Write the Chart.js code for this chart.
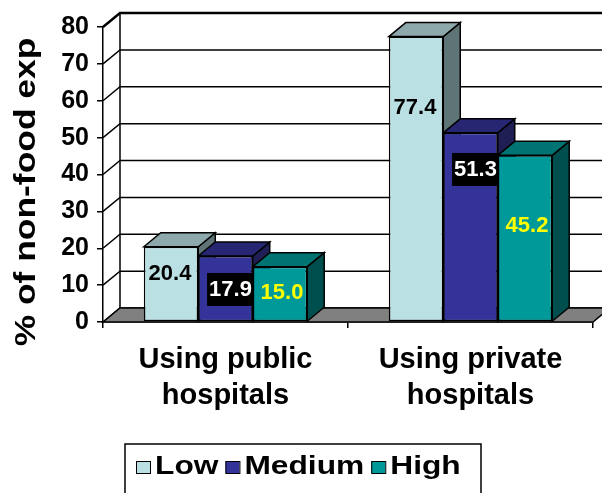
<!DOCTYPE html>
<html>
<head>
<meta charset="utf-8">
<script src="https://cdn.jsdelivr.net/npm/chart.js@4.4.1/dist/chart.umd.min.js"></script>
<style>
    html, body { margin: 0; padding: 0; background: #fff; }
    canvas { display: block; }
</style>
</head>
<body>
<canvas id="chart" width="602" height="493"></canvas>
<script>
// ---- data ----
const categories = [['Using public', 'hospitals'], ['Using private', 'hospitals']];
const seriesNames = ['Low', 'Medium', 'High'];
const lowValues = [20.4, 77.4];
const mediumValues = [17.9, 51.3];
const highValues = [15.0, 45.2];
const yTicks = [0, 10, 20, 30, 40, 50, 60, 70, 80];
const yTitle = '% of non-food exp';

// ---- styles ----
const frontColors = ['#bbe0e3', '#333399', '#009999'];
const topColors = ['#8ea9ab', '#262673', '#007373'];
const sideColors = ['#5f7476', '#1f1f55', '#004f4f'];
const labelColors = ['#000000', '#ffffff', '#ffff00'];
const FONT = "'Liberation Sans', Arial, sans-serif";
const DX = 17, DY = -14;   // depth of the 3D look

// where the value labels sit (in axis units) and their sideways shift
const labelAnchors = [[13.2, 8.95, 8.1], [58.2, 41.5, 26.4]];
const labelShift = [-1, 5, 2];

function poly(ctx, pts, fill) {
    ctx.beginPath();
    ctx.moveTo(pts[0][0], pts[0][1]);
    for (let k = 1; k < pts.length; k++) ctx.lineTo(pts[k][0], pts[k][1]);
    ctx.closePath();
    ctx.fillStyle = fill;
    ctx.fill();
    ctx.stroke();
}

// back wall, floor, bar tops and sides
const threeD = {
    id: 'threeD',
    beforeDatasetsDraw(chart) {
        const { ctx, chartArea: a, scales: { y } } = chart;
        const y0 = y.getPixelForValue(yTicks[0]);
        const yTop = y.getPixelForValue(yTicks[yTicks.length - 1]);
        ctx.save();
        ctx.strokeStyle = '#000';
        ctx.lineJoin = 'miter';

        yTicks.forEach((v, k) => {
            const py = y.getPixelForValue(v);
            ctx.lineWidth = k === yTicks.length - 1 ? 2.5 : 1.5;
            ctx.beginPath();
            ctx.moveTo(a.left, py);
            ctx.lineTo(a.left + DX, py + DY);
            ctx.lineTo(chart.width, py + DY);
            ctx.stroke();
        });
        ctx.lineWidth = 1.5;
        ctx.beginPath();
        ctx.moveTo(a.left + DX, y0 + DY);
        ctx.lineTo(a.left + DX, yTop + DY);
        ctx.stroke();

        // floor
        poly(ctx, [[a.left, y0], [a.left + DX, y0 + DY], [a.right + DX, y0 + DY], [a.right, y0]], '#808080');

        categories.forEach((c, i) => {
            chart.data.datasets.forEach((ds, d) => {
                const el = chart.getDatasetMeta(d).data[i];
                const l = el.x - el.width / 2, r = el.x + el.width / 2;
                poly(ctx, [[r, el.y], [r + DX, el.y + DY], [r + DX, el.base + DY], [r, el.base]], sideColors[d]);
                poly(ctx, [[l, el.y], [l + DX, el.y + DY], [r + DX, el.y + DY], [r, el.y]], topColors[d]);
            });
        });
        ctx.restore();
    },
    afterDatasetsDraw(chart) {
        const { ctx, scales: { y } } = chart;
        ctx.save();
        ctx.font = 'bold 22px ' + FONT;
        ctx.textAlign = 'center';
        ctx.textBaseline = 'middle';
        categories.forEach((c, i) => {
            chart.data.datasets.forEach((ds, d) => {
                const el = chart.getDatasetMeta(d).data[i];
                const txt = ds.data[i].toFixed(1);
                const cx = el.x + labelShift[d];
                const cy = y.getPixelForValue(labelAnchors[i][d]);
                if (d === 1) {
                    const w = ctx.measureText(txt).width;
                    ctx.fillStyle = '#000';
                    ctx.fillRect(cx - w / 2 - 2, cy - 16, w + 4, 33);
                }
                ctx.fillStyle = labelColors[d];
                ctx.fillText(txt, cx, cy + 1);
            });
        });
        ctx.restore();
    }
};

// rotated axis title and boxed legend (text a little stretched, as in the original)
const extras = {
    id: 'extras',
    afterDraw(chart) {
        const ctx = chart.ctx;
        ctx.save();
        ctx.fillStyle = '#000';
        ctx.font = 'bold 30px ' + FONT;
        ctx.textAlign = 'center';
        ctx.textBaseline = 'middle';
        ctx.translate(27, 192);
        ctx.rotate(-Math.PI / 2);
        ctx.scale(1.18, 1);
        ctx.fillText(yTitle, 0, 0);
        ctx.restore();

        ctx.save();
        ctx.strokeStyle = '#000';
        ctx.lineWidth = 1.5;
        ctx.strokeRect(125, 444, 356, 70);
        ctx.font = 'bold 26px ' + FONT;
        ctx.textBaseline = 'middle';
        ctx.textAlign = 'left';
        const sx = 1.22;
        let x = 136;
        seriesNames.forEach((n, d) => {
            ctx.fillStyle = frontColors[d];
            ctx.lineWidth = 1;
            ctx.fillRect(x, 461, 14, 12);
            ctx.strokeRect(x + 0.5, 461.5, 14, 12);
            x += 19;
            ctx.fillStyle = '#000';
            ctx.save();
            ctx.translate(x, 467);
            ctx.scale(sx, 1);
            ctx.fillText(n, 0, 0);
            ctx.restore();
            x += ctx.measureText(n).width * sx + 7;
        });
        ctx.restore();
    }
};

const seriesValues = [lowValues, mediumValues, highValues];

new Chart(document.getElementById('chart'), {
    type: 'bar',
    data: {
        labels: categories,
        datasets: seriesNames.map((n, d) => ({
            label: n,
            data: seriesValues[d],
            backgroundColor: frontColors[d],
            borderColor: '#000',
            borderWidth: 1.5,
            borderSkipped: false,
            categoryPercentage: 0.667,
            barPercentage: 1.0,
            clip: false
        }))
    },
    options: {
        responsive: false,
        animation: false,
        layout: { padding: { top: 27, right: 9, left: 0, bottom: 0 } },
        plugins: {
            legend: { display: false },
            tooltip: { enabled: false }
        },
        scales: {
            x: {
                afterFit(s) { s.height = 171; },
                grid: {
                    display: true,
                    drawOnChartArea: false,
                    drawTicks: true,
                    tickLength: 6,
                    color: '#000',
                    lineWidth: 1.5,
                    offset: true
                },
                border: { display: true, color: '#000', width: 1.5 },
                ticks: {
                    color: '#000',
                    padding: 14,
                    maxRotation: 0,
                    font: { family: FONT, size: 29, weight: 'bold', lineHeight: 1.24 }
                }
            },
            y: {
                min: 0,
                max: 80,
                afterFit(s) { s.width = 103; },
                afterBuildTicks(s) { s.ticks = yTicks.map(v => ({ value: v })); },
                grid: {
                    display: true,
                    drawOnChartArea: false,
                    drawTicks: true,
                    tickLength: 6,
                    color: '#000',
                    lineWidth: 1.5
                },
                border: { display: true, color: '#000', width: 1.5 },
                ticks: {
                    color: '#000',
                    padding: 8,
                    font: { family: FONT, size: 25, weight: 'bold' }
                }
            }
        }
    },
    plugins: [threeD, extras]
});
</script>
</body>
</html>
